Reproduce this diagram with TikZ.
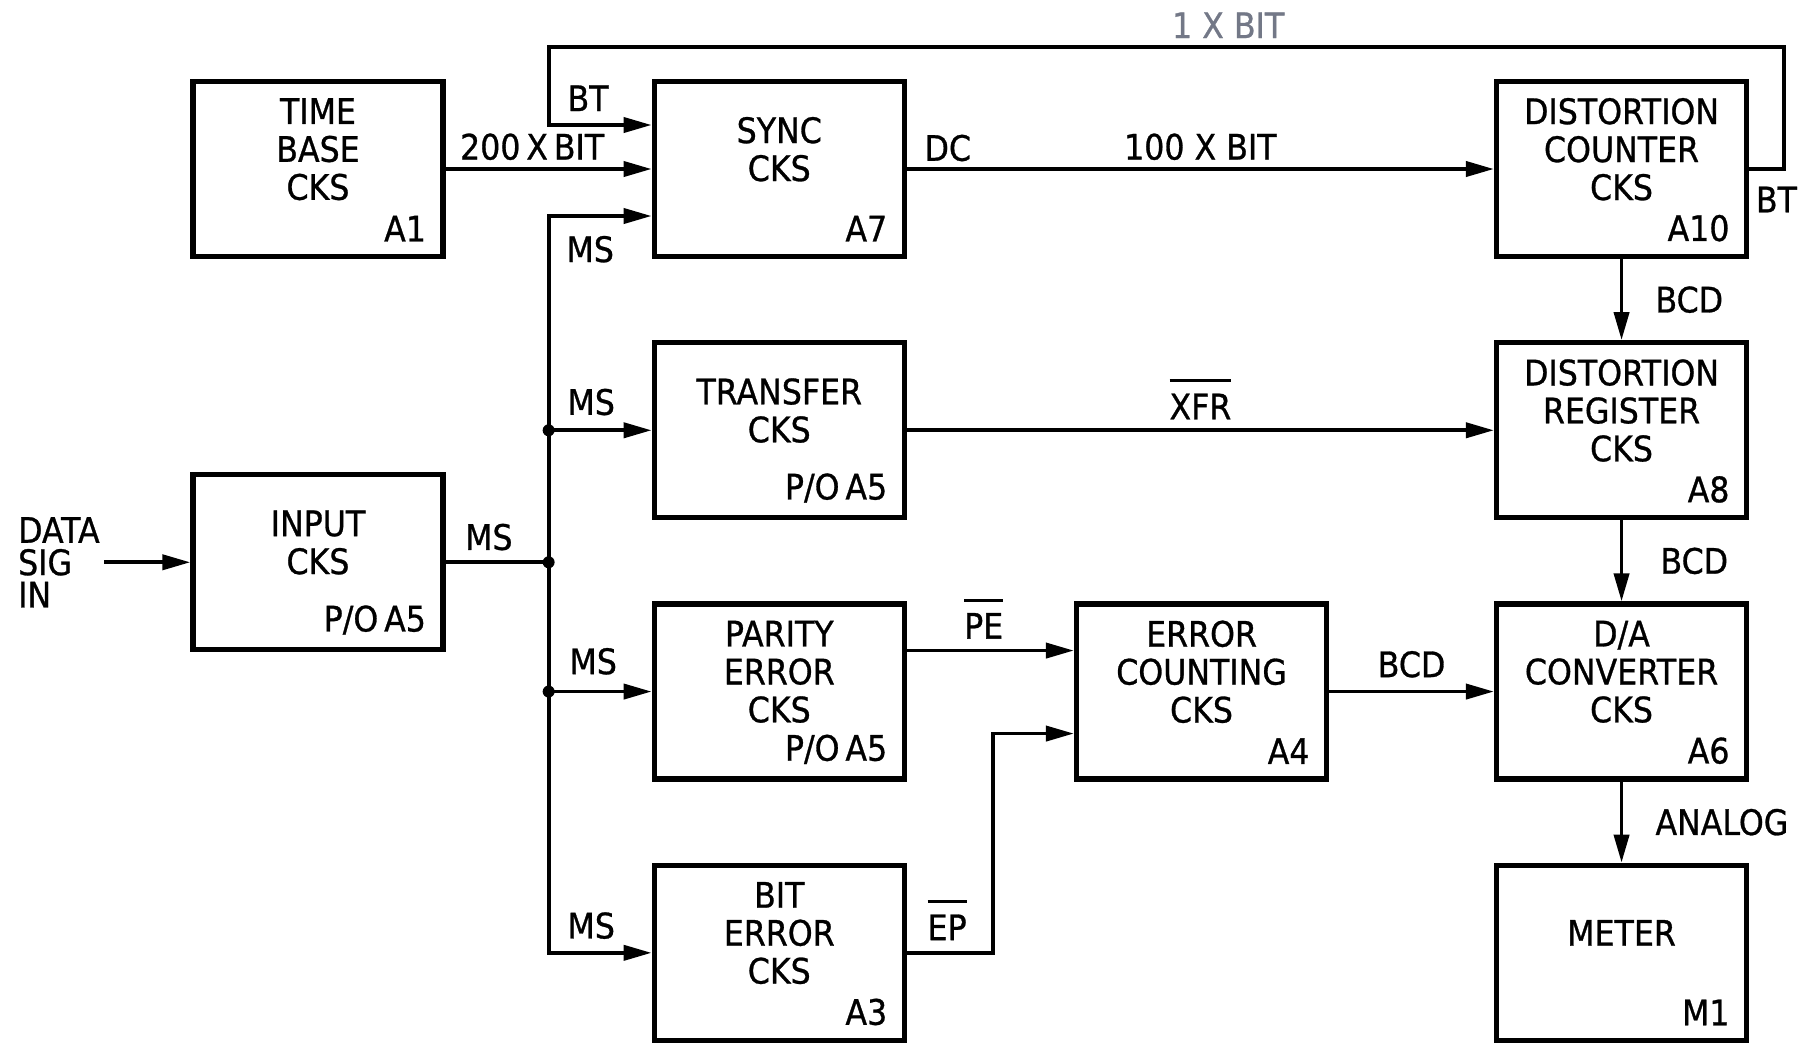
\documentclass[tikz,border=0pt]{standalone}
\usepackage{fontspec}
\setmainfont{DejaVu Sans}[FakeStretch=0.9,FakeBold=0.8]
\usetikzlibrary{arrows.meta,positioning}
\definecolor{faded}{RGB}{115,120,135}
\newcommand{\ovl}[1]{\vbox{\hrule height 0.9pt\kern 3.2pt\hbox{#1}}}

\begin{document}
\begin{tikzpicture}[
    font=\fontsize{10}{10.8}\selectfont,
    blk/.style={rectangle,draw,line width=1.5pt,minimum width=2.5cm,
      minimum height=1.75cm,inner sep=2pt,align=center,text depth=0.4cm},
    tag/.style={anchor=south east,inner sep=0pt,xshift=-0.19cm,yshift=0.17cm},
    sig/.style={inner sep=0pt},
    wire/.style={line width=1.1pt},
    arrow/.style={wire,-{Triangle[length=2.8mm,width=1.5mm]}},
    dot/.style={circle,fill,inner sep=0pt,minimum size=1.2mm}
  ]
    \path[use as bounding box,fill=white] (0,0) rectangle (18.04,-10.47);

    \node[blk,label={[tag]south east:A1}] (timebase) at (3.18,-1.69) {TIME\\BASE\\CKS};
    \node[blk,label={[tag]south east:A7},right=2.06cm of timebase] (sync) {SYNC\\CKS};
    \node[blk,label={[tag]south east:A10},right=5.87cm of sync] (distcount) {DISTORTION\\COUNTER\\CKS};
    \node[blk,label={[tag]south east:P/O\,A5},below=2.13cm of timebase] (input) {INPUT\\CKS};
    \node[blk,label={[tag]south east:P/O\,A5},below=0.81cm of sync] (transfer) {TRANSFER\\CKS};
    \node[blk,label={[tag]south east:P/O\,A5},below=0.81cm of transfer] (parity) {PARITY\\ERROR\\CKS};
    \node[blk,label={[tag]south east:A3},below=0.81cm of parity] (biterr) {BIT\\ERROR\\CKS};
    \node[blk,label={[tag]south east:A4},right=1.67cm of parity] (errcount) {ERROR\\COUNTING\\CKS};
    \node[blk,label={[tag]south east:A8},below=0.81cm of distcount] (distreg) {DISTORTION\\REGISTER\\CKS};
    \node[blk,label={[tag]south east:A6},below=0.81cm of distreg] (dacon) {D/A\\CONVERTER\\CKS};
    \node[blk,label={[tag]south east:M1},below=0.81cm of dacon] (meter) {METER};

    \coordinate[right=1.03cm of input] (jin);
    \coordinate[left=0.86cm of input] (datain);
    \coordinate (btin) at ([yshift=0.44cm]sync.west);
    \coordinate (msin) at ([yshift=-0.47cm]sync.west);
    \coordinate (fbr) at ([xshift=0.35cm]distcount.east);
    \coordinate (fbtop) at ([yshift=1.22cm]fbr);
    \coordinate (peout) at ([yshift=0.41cm]parity.east);
    \coordinate (pein) at ([yshift=0.41cm]errcount.west);
    \coordinate (epin) at ([yshift=-0.42cm]errcount.west);
    \coordinate (epbend) at ([xshift=0.86cm]biterr.east);

    \node[sig,left=0.04cm of datain,align=left,font=\fontsize{10}{9.2}\selectfont] (lbl-data) {DATA\\SIG\\IN};
    \draw[arrow] (datain) -- (input);
    \draw[wire] (input) -- node[sig,above=0.1cm,pos=0.42] (lbl-ms0) {MS} (jin);

    \draw[arrow] (jin) |- node[sig,below right=0.18cm and 0.16cm] (lbl-ms1) {MS} (msin);
    \draw[arrow] (jin) |- node[sig,above right=0.13cm and 0.17cm] (lbl-ms2) {MS} (transfer);
    \draw[arrow] (jin) |- node[sig,above right=0.15cm and 0.19cm] (lbl-ms3) {MS} (parity);
    \draw[arrow] (jin) |- node[sig,above right=0.12cm and 0.17cm] (lbl-ms4) {MS} (biterr);
    \node[dot] (dot0) at (jin) {};
    \node[dot] (dot1) at (jin |- transfer) {};
    \node[dot] (dot2) at (jin |- parity) {};

    \draw[arrow] (timebase) -- node[sig,above=0.07cm,pos=0.42] (lbl-200) {200\,X\,BIT} (sync);
    \draw[arrow] (sync) -- node[sig,above=0.07cm] (lbl-100) {100 X BIT} (distcount);
    \node[sig,above right=0.07cm and 0.17cm of sync.east] (lbl-dc) {DC};

    \draw[arrow] (distcount.east) -- (fbr) |- node[sig,above=0.07cm,pos=0.725,text=faded] (lbl-1x) {1 X BIT} (fbtop -| jin)
      -- (jin |- btin) node[sig,above right=0.12cm and 0.17cm] (lbl-bt1) {BT} -- (btin);
    \node[sig,below right=0.17cm and 0.06cm of distcount.east] (lbl-bt2) {BT};

    \draw[arrow] (distcount) -- node[sig,right=0.32cm] (lbl-bcd1) {BCD} (distreg);
    \draw[arrow] (transfer) -- node[sig,above=0.09cm] (lbl-xfr) {\ovl{XFR}} (distreg);
    \draw[arrow] (distreg) -- node[sig,right=0.37cm] (lbl-bcd2) {BCD} (dacon);
    \draw[arrow] (peout) -- node[sig,above=0.1cm,pos=0.46] (lbl-pe) {\ovl{PE}} (pein);
    \draw[arrow] (biterr) -- (epbend) |- (epin);
    \node[sig,above right=0.12cm and 0.2cm of biterr.east] (lbl-ep) {\ovl{EP}};
    \draw[arrow] (errcount) -- node[sig,above=0.12cm] (lbl-bcd3) {BCD} (dacon);
    \draw[arrow] (dacon) -- node[sig,right=0.32cm] (lbl-analog) {ANALOG} (meter);
  \end{tikzpicture}
\end{document}
